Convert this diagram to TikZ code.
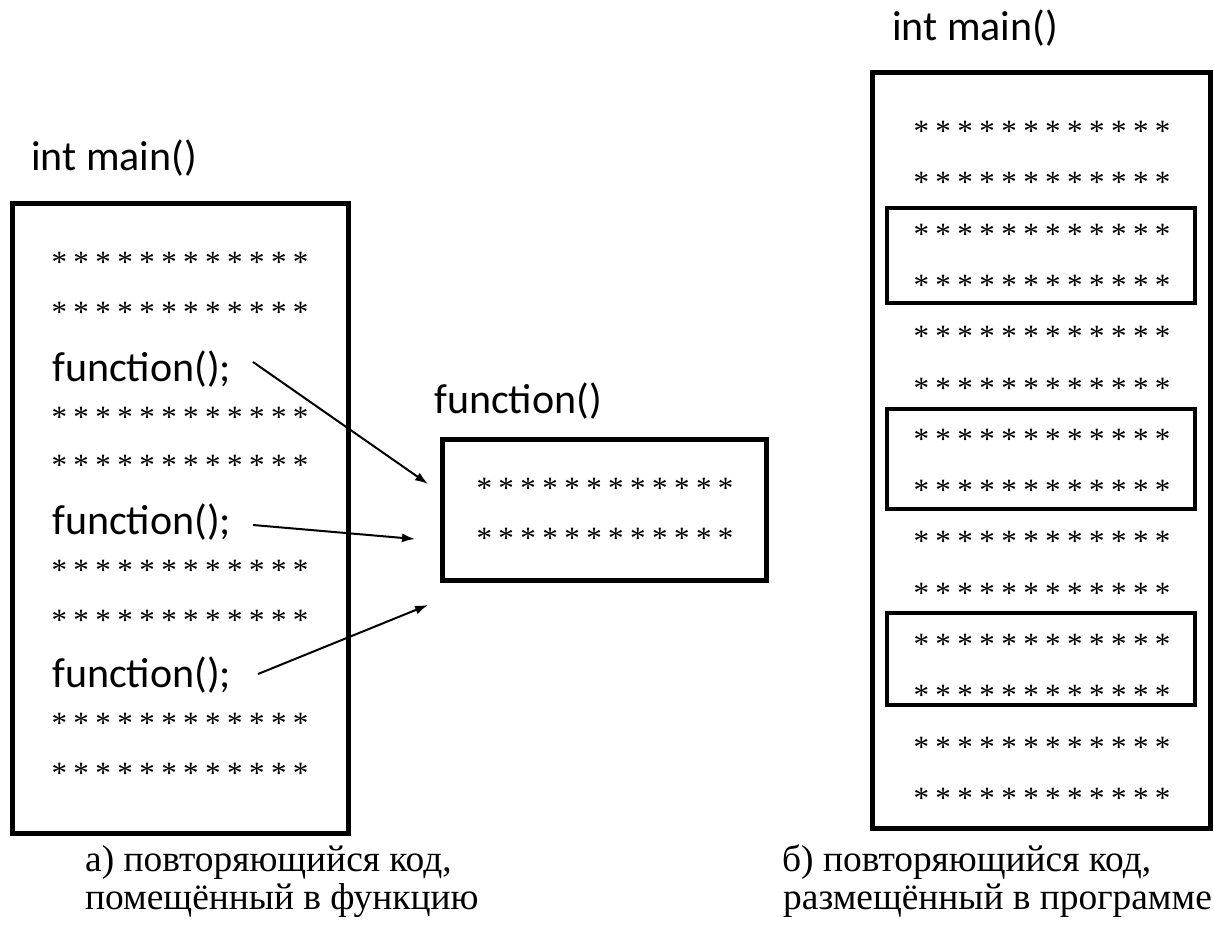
\documentclass[tikz,border=0pt]{standalone}
\usepackage{fontspec}
\setmainfont{Liberation Serif}
\newfontfamily\codefont{Carlito}
\usetikzlibrary{arrows.meta}

% one row of twelve evenly spaced asterisks
\newcommand\starcell{\makebox[21.95pt]{*}}
\newcommand\starline{\starcell\starcell\starcell\starcell\starcell\starcell\starcell\starcell\starcell\starcell\starcell\starcell}
% baseline drop below the visual centre of an asterisk row
\def\sdrop{15.5}

\begin{document}
\begin{tikzpicture}[x=1pt,y=-1pt,
  frame/.style={draw, line width=5pt, inner sep=0pt},
  inner/.style={draw, line width=4.5pt, inner sep=0pt},
  stars/.style={anchor=base, inner sep=0pt, font=\fontsize{31}{34}\selectfont},
  code/.style={anchor=base west, inner sep=0pt, font=\codefont\fontsize{42}{50}\selectfont},
  caption/.style={anchor=base west, inner sep=0pt, font=\fontsize{37.4}{42}\selectfont},
  arr/.style={line width=2pt, -{Latex[length=13pt,width=9pt]}}]
\useasboundingbox (0,0) rectangle (1214,924);

% ---------- (a) main() calling function() ----------
\node[code] (mainA) at (31,170) {int main()};
\node[frame, minimum width=336pt, minimum height=630pt] (boxA) at (180,518) {};
\foreach \y [count=\i] in {257,307,412,460,565,615,718,768}
  \node[stars] (sa\i) at (180,\y+\sdrop) {\starline};
\node[code] (f1) at (52,381) {function();};
\node[code] (f2) at (52,534) {function();};
\node[code] (f3) at (52,687) {function();};

\node[code] (fnlabel) at (434,413) {function()};
\node[frame, minimum width=324pt, minimum height=141pt] (fnbox) at (604,509.5) {};
\node[stars] (sf1) at (605,483+\sdrop) {\starline};
\node[stars] (sf2) at (605,533+\sdrop) {\starline};

\coordinate (s1) at (253,362);
\coordinate (t1) at (428,484);
\coordinate (s2) at (253,525);
\coordinate (t2) at (415,539);
\coordinate (s3) at (258,674);
\coordinate (t3) at (428,605);
\draw[arr] (s1) -- (t1);
\draw[arr] (s2) -- (t2);
\draw[arr] (s3) -- (t3);

\node[caption] (capA1) at (85,871) {а) повторяющийся код,};
\node[caption] (capA2) at (85,909) {помещённый в функцию};

% ---------- (b) code repeated inside main() ----------
\node[code] (mainB) at (892,40) {int main()};
\node[frame, minimum width=338pt, minimum height=756pt] (boxB) at (1041,450) {};
\foreach \k in {0,...,13}
  \node[stars] (sb\k) at (1042,126+51.3*\k+\sdrop) {\starline};
\node[inner, minimum width=308pt, minimum height=95pt] (rep1) at (1041,255.5) {};
\node[inner, minimum width=308pt, minimum height=100pt] (rep2) at (1041,459) {};
\node[inner, minimum width=308pt, minimum height=92pt] (rep3) at (1041,659) {};

\node[caption] (capB1) at (782,871) {б) повторяющийся код,};
\node[caption] (capB2) at (783,909) {размещённый в программе};
\end{tikzpicture}
\end{document}
